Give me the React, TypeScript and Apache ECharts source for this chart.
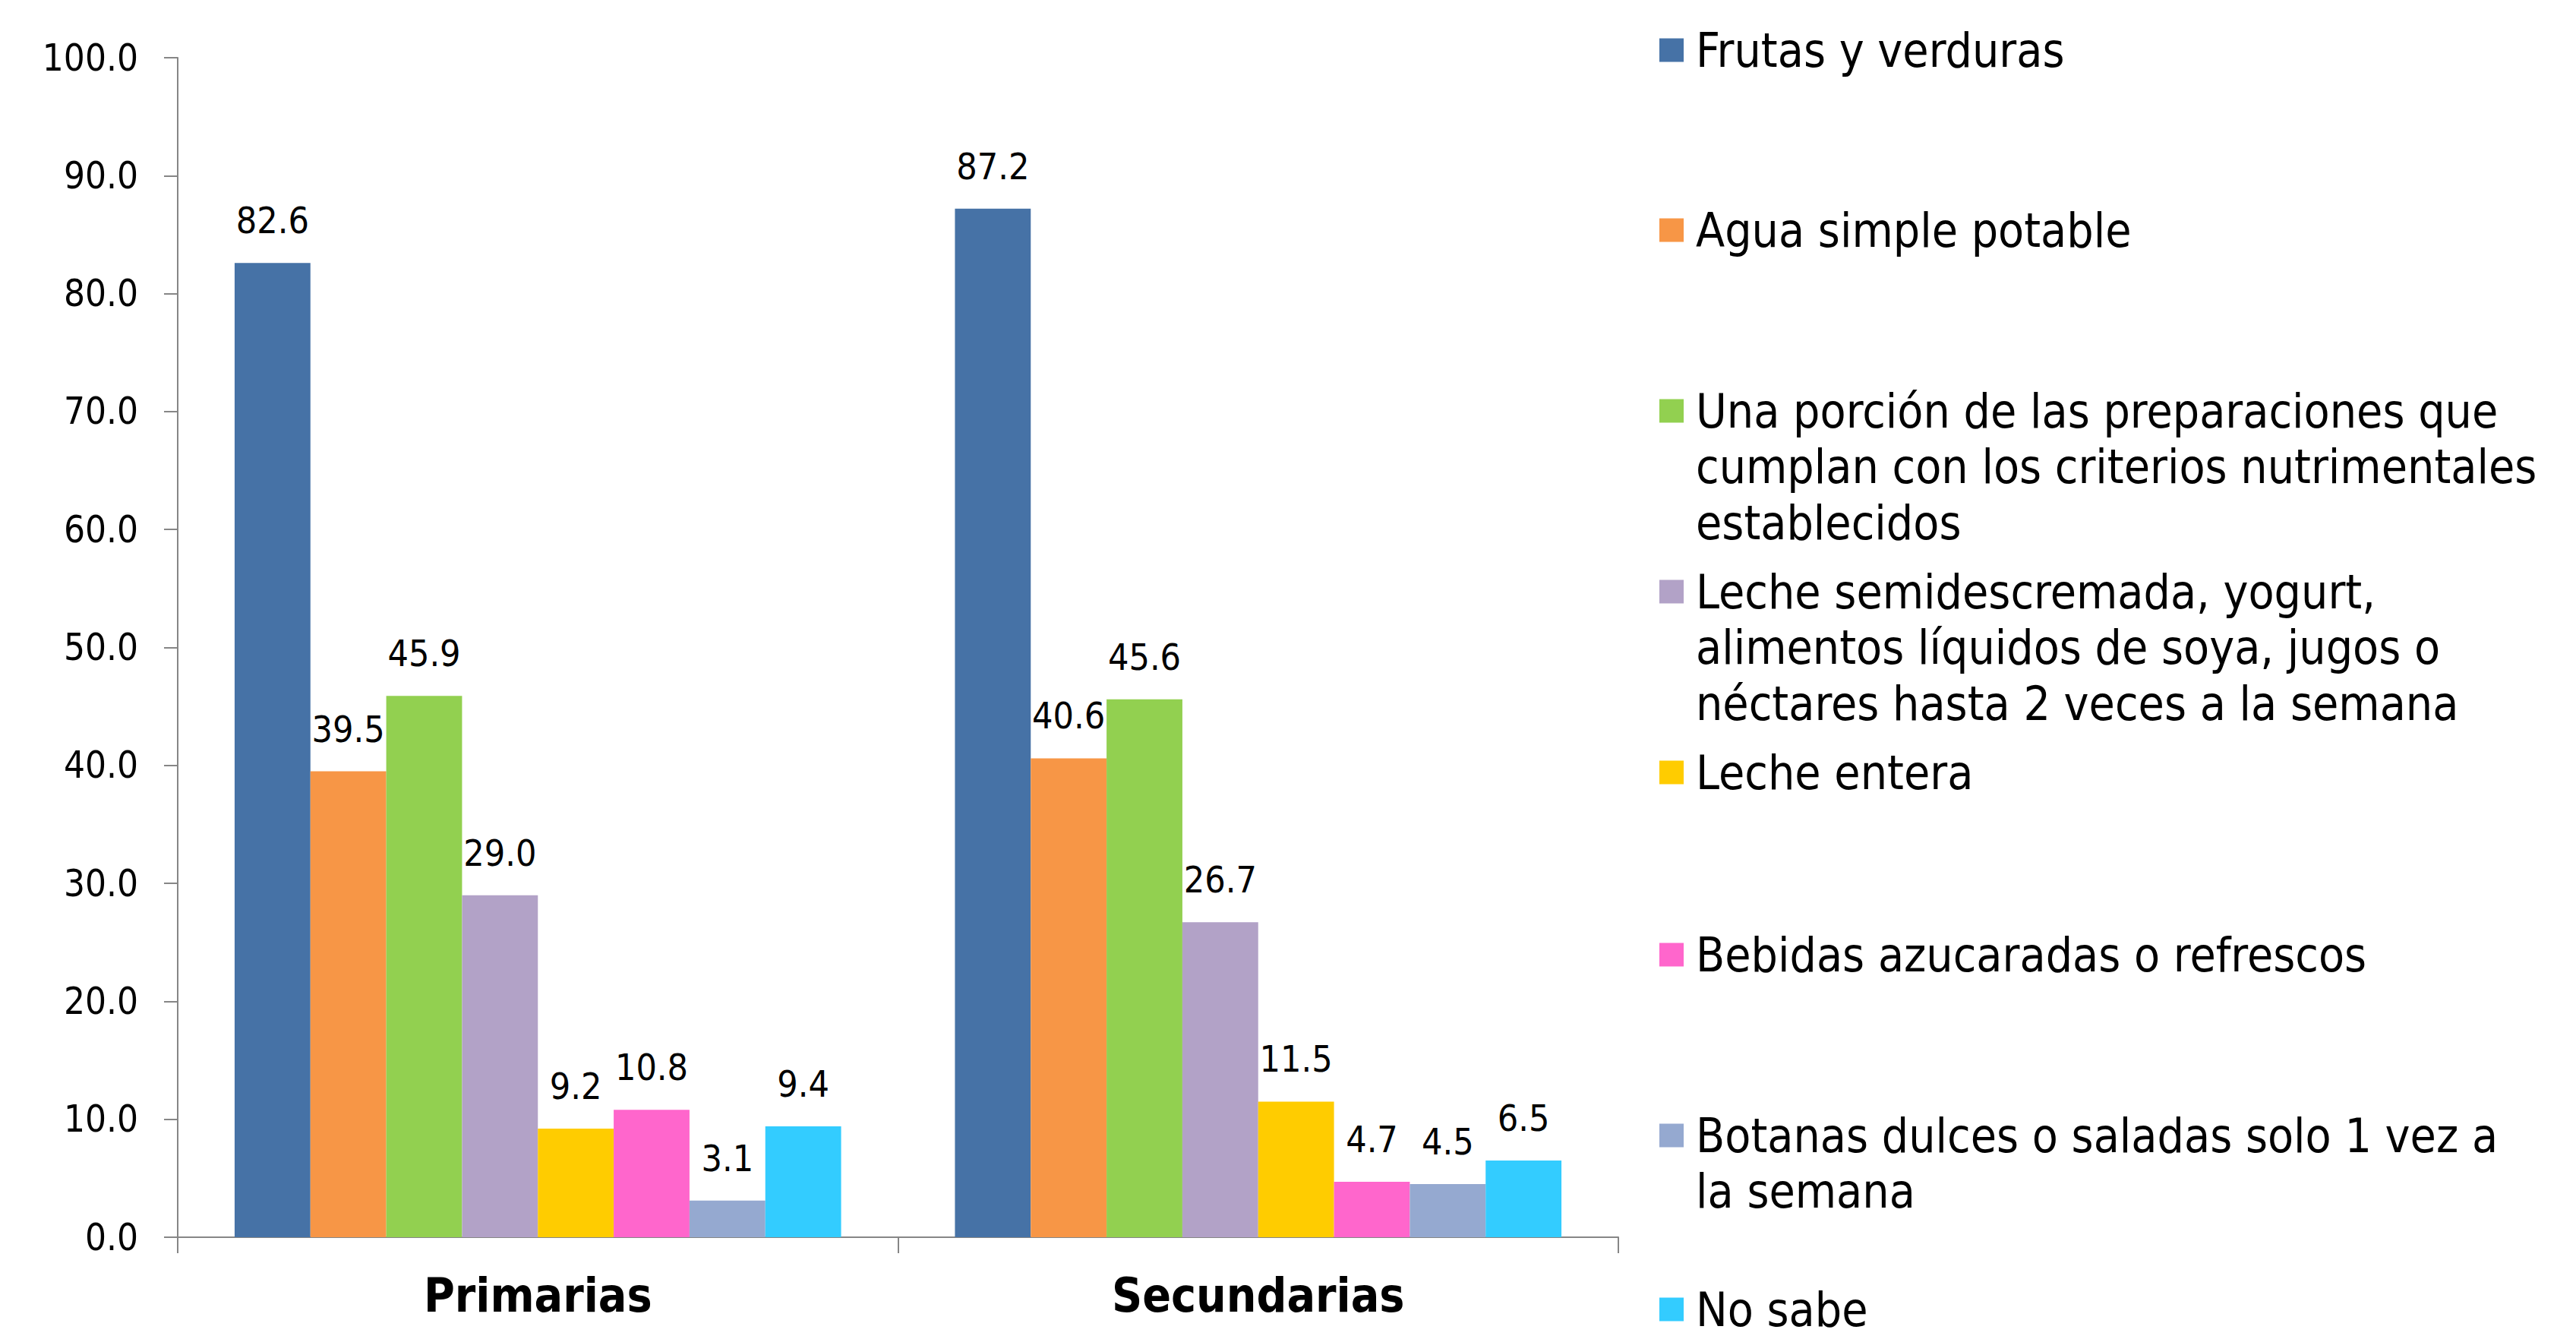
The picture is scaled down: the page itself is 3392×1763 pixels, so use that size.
import React, { useEffect, useRef } from "react";
import * as echarts from "echarts";

// ---- data ----
const categories = ["Primarias", "Secundarias"];
const seriesNames = [
  "Frutas y verduras",
  "Agua simple potable",
  "Una porción de las preparaciones que cumplan con los criterios nutrimentales establecidos",
  "Leche semidescremada, yogurt, alimentos líquidos de soya, jugos o néctares hasta 2 veces a la semana",
  "Leche entera",
  "Bebidas azucaradas o refrescos",
  "Botanas dulces o saladas solo 1 vez a la semana",
  "No sabe",
];
const legendLines = [
  ["Frutas y verduras"],
  ["Agua simple potable"],
  ["Una porción de las preparaciones que", "cumplan con los criterios nutrimentales", "establecidos"],
  ["Leche semidescremada, yogurt,", "alimentos líquidos de soya, jugos o", "néctares hasta 2 veces a la semana"],
  ["Leche entera"],
  ["Bebidas azucaradas o refrescos"],
  ["Botanas dulces o saladas solo 1 vez a", "la semana"],
  ["No sabe"],
];
const frutasVerduras = [82.6, 87.2];
const aguaSimple = [39.5, 40.6];
const porcionPreparaciones = [45.9, 45.6];
const lecheSemidescremada = [29.0, 26.7];
const lecheEntera = [9.2, 11.5];
const bebidasAzucaradas = [10.8, 4.7];
const botanas = [3.1, 4.5];
const noSabe = [9.4, 6.5];
const seriesValues = [
  frutasVerduras,
  aguaSimple,
  porcionPreparaciones,
  lecheSemidescremada,
  lecheEntera,
  bebidasAzucaradas,
  botanas,
  noSabe,
];
const yMin = 0;
const yMax = 100;
const yInterval = 10;

// ---- styles ----
const colors = ["#4672A6", "#F79646", "#92D050", "#B2A2C7", "#FFCC00", "#FF66CC", "#95A9D0", "#33CCFF"];
const FONT = "'DejaVu Sans Condensed', 'DejaVu Sans', Verdana, sans-serif";
const legendIconCenterY = [66, 303, 541, 779, 1017, 1257, 1495, 1724];
const LH = 73.5;
const LEGEND_ICON_LEFT = 2185;
const LEGEND_TEXT_LEFT = 2233;
const LEGEND_FS = 62;

export default function App() {
  const ref = useRef<HTMLDivElement>(null);
  useEffect(() => {
    if (!ref.current) return;
    const chart = echarts.init(ref.current, null, { renderer: "svg" });

    const legends = seriesNames.map((name, i) => ({
      show: true,
      orient: "vertical",
      left: LEGEND_ICON_LEFT,
      top: legendIconCenterY[i] - 31,
      padding: 0,
      itemWidth: 32,
      itemHeight: 31,
      itemGap: 0,
      icon: "rect",
      selectedMode: false,
      data: [name],
      formatter: () => "{t|" + legendLines[i][0] + "}",
      textStyle: {
        fontFamily: FONT,
        fontSize: LEGEND_FS,
        color: "#000",
        lineHeight: 62,
        rich: {
          t: {
            fontFamily: FONT,
            fontSize: LEGEND_FS,
            color: "#000",
            lineHeight: 62,
            padding: [0, 0, 0, LEGEND_TEXT_LEFT - LEGEND_ICON_LEFT - 32 - 5],
          },
        },
      },
    }));

    const continuation: any[] = [];
    legendLines.forEach((lines, i) => {
      lines.slice(1).forEach((line, k) => {
        continuation.push({
          type: "text",
          left: LEGEND_TEXT_LEFT,
          top: legendIconCenterY[i] + (k + 1) * LH - 31,
          style: {
            text: line,
            fontFamily: FONT,
            fontSize: LEGEND_FS,
            fill: "#000",
            lineHeight: 62,
          },
        });
      });
    });

    chart.setOption({
      animation: false,
      backgroundColor: "#fff",
      color: colors,
      textStyle: { fontFamily: FONT },
      legend: legends,
      graphic: continuation,
      grid: { left: 234, top: 76, width: 1897, height: 1553, containLabel: false },
      xAxis: {
        type: "category",
        data: categories,
        axisLine: { show: true, lineStyle: { color: "#868686", width: 2 } },
        axisTick: { show: true, length: 21, lineStyle: { color: "#868686", width: 2 } },
        axisLabel: {
          fontFamily: FONT,
          fontSize: 62,
          fontWeight: "bold",
          color: "#000",
          margin: 45,
        },
        splitLine: { show: false },
      },
      yAxis: {
        type: "value",
        min: yMin,
        max: yMax,
        interval: yInterval,
        axisLine: { show: true, lineStyle: { color: "#868686", width: 2 } },
        axisTick: { show: true, length: 18, lineStyle: { color: "#868686", width: 2 } },
        axisLabel: {
          fontFamily: FONT,
          fontSize: 49,
          color: "#000",
          margin: 52,
          formatter: (v: number) => v.toFixed(1),
        },
        splitLine: { show: false },
      },
      series: seriesNames.map((name, i) => ({
        name,
        type: "bar",
        data: seriesValues[i],
        barGap: "0%",
        barCategoryGap: "15.8%",
        itemStyle: { color: colors[i] },
        label: {
          show: true,
          position: "top",
          distance: 32,
          fontFamily: FONT,
          fontSize: 48,
          color: "#000",
          formatter: (p: any) => Number(p.value).toFixed(1),
        },
      })),
    });
    return () => chart.dispose();
  }, []);
  return (
    <div
      ref={ref}
      style={{ position: "fixed", left: 0, top: 0, width: 3392, height: 1763, background: "#fff" }}
    />
  );
}
